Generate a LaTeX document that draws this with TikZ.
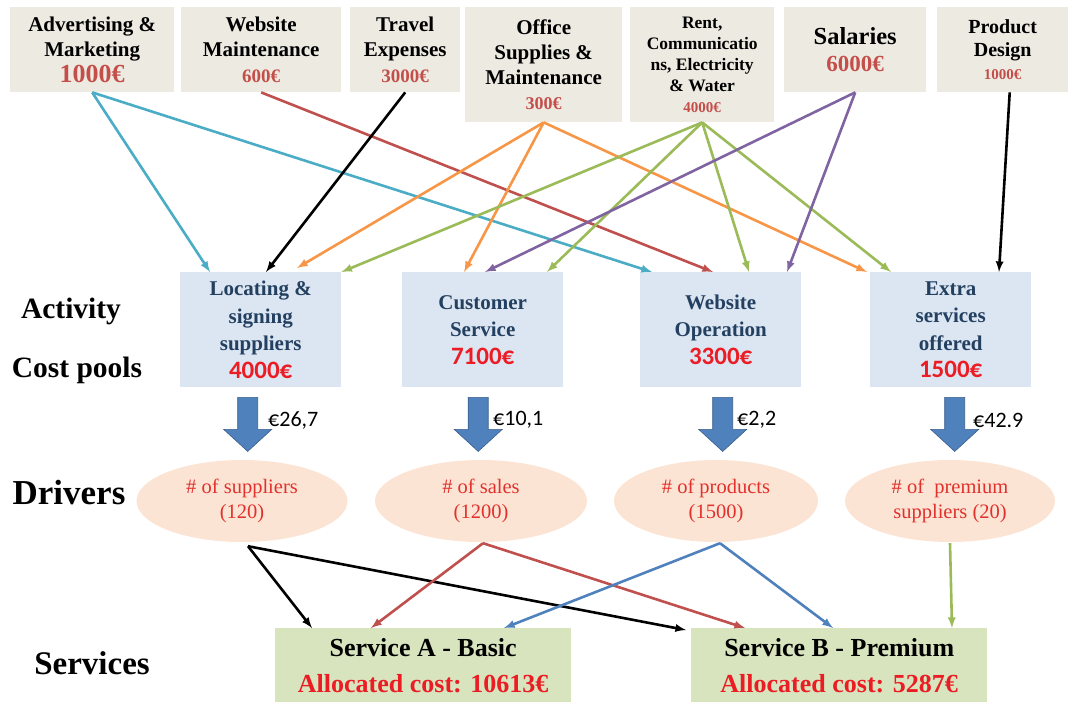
\documentclass[tikz,border=0pt]{standalone}
\usepackage{fontspec}
\setmainfont{Liberation Serif}
\newfontfamily\calibri{Carlito}
\usetikzlibrary{arrows,shapes.geometric}

\definecolor{boxgray}{RGB}{236,234,225}
\definecolor{poolblue}{RGB}{220,230,242}
\definecolor{drvpeach}{RGB}{252,228,212}
\definecolor{srvgreen}{RGB}{215,228,189}
\definecolor{costred}{RGB}{196,78,74}
\definecolor{brightred}{RGB}{236,28,36}
\definecolor{drvred}{RGB}{226,48,44}
\definecolor{navy}{RGB}{36,64,97}
\definecolor{acyan}{RGB}{75,172,198}
\definecolor{ared}{RGB}{192,80,77}
\definecolor{aorange}{RGB}{247,150,70}
\definecolor{agreen}{RGB}{155,187,89}
\definecolor{apurple}{RGB}{128,100,162}
\definecolor{ablue}{RGB}{79,129,189}
\definecolor{ablueline}{RGB}{56,93,138}

\tikzset{
  expense/.style={fill=boxgray,inner sep=0pt,align=center,anchor=north west},
  pool/.style={fill=poolblue,inner sep=0pt,align=center,anchor=north west,
    minimum width=161,minimum height=115,text=navy,font=\bfseries\fontsize{21}{27.5}\selectfont},
  driver/.style={ellipse,fill=drvpeach,inner sep=0pt,align=center,minimum height=82,
    text=drvred,font=\fontsize{20.5}{25}\selectfont},
  service/.style={fill=srvgreen,inner sep=0pt,align=center,anchor=north west,
    minimum width=296,minimum height=74,font=\bfseries\fontsize{26}{36}\selectfont},
  rowlabel/.style={font=\bfseries\fontsize{29.5}{32}\selectfont},
  rate/.style={anchor=west,inner sep=0pt,font=\calibri\fontsize{22}{22}\selectfont},
  flow/.style={->,line width=2.6pt},
  bigdown/.style={fill=ablue,draw=ablueline,line width=0.6pt,line join=miter}
}

\begin{document}
\begin{tikzpicture}[>=latex,x=1pt,y=-1pt]
\useasboundingbox (0,0) rectangle (1073,702);
%%
% Node: expenses
\node[expense,minimum width=164,minimum height=85,font=\bfseries\fontsize{21}{25.5}\selectfont] (adv) at (10,7)
  {Advertising \&\\Marketing\\{\color{costred}\fontsize{26}{27}\selectfont 1000€}};
\node[expense,minimum width=160,minimum height=85,font=\bfseries\fontsize{21}{25.5}\selectfont] (webm) at (181,7)
  {Website\\Maintenance\\{\color{costred}\fontsize{19}{26}\selectfont 600€}};
\node[expense,minimum width=110,minimum height=85,font=\bfseries\fontsize{21}{25.5}\selectfont] (trav) at (350,7)
  {Travel\\Expenses\\{\color{costred}\fontsize{19}{26}\selectfont 3000€}};
\node[expense,minimum width=157,minimum height=115,font=\bfseries\fontsize{21}{25}\selectfont] (off) at (465,7)
  {Office\\Supplies \&\\Maintenance\\{\color{costred}\fontsize{18}{25}\selectfont 300€}};
\node[expense,minimum width=144,minimum height=115,font=\bfseries\fontsize{17.5}{21}\selectfont] (rent) at (630,7)
  {Rent,\\Communicatio\\ns, Electricity\\\& Water\\{\color{costred}\fontsize{15}{20}\selectfont 4000€}};
\node[expense,minimum width=142,minimum height=85,font=\bfseries\fontsize{24.5}{27}\selectfont] (sal) at (784,7)
  {Salaries\\{\color{costred}\fontsize{23}{27}\selectfont 6000€}};
\node[expense,minimum width=131,minimum height=85,font=\bfseries\fontsize{20}{23}\selectfont] (prod) at (937,7)
  {Product\\Design\\{\color{costred}\fontsize{15}{22}\selectfont 1000€}};
%
% Node: activity cost pools
\node[pool] (loc) at (180,272)
  {Locating \&\\signing\\suppliers\\{\calibri\color{brightred}\fontsize{25}{27.5}\selectfont 4000€}};
\node[pool] (cust) at (402,272)
  {Customer\\Service\\{\calibri\color{brightred}\fontsize{25}{27.5}\selectfont 7100€}};
\node[pool] (webop) at (640,272)
  {Website\\Operation\\{\calibri\color{brightred}\fontsize{25}{27.5}\selectfont 3300€}};
\node[pool] (extra) at (870,272)
  {Extra\\services\\offered\\{\calibri\color{brightred}\fontsize{25}{27.5}\selectfont 1500€}};
%
% Node: drivers
\node[driver,minimum width=211] (drv1) at (242,501) {\# of suppliers\\(120)};
\node[driver,minimum width=212] (drv2) at (481,501) {\# of sales\\(1200)};
\node[driver,minimum width=204] (drv3) at (716,501) {\# of products\\(1500)};
\node[driver,minimum width=210] (drv4) at (950,501) {\# of~ premium\\suppliers (20)};
%
% Node: services
\node[service] (srvA) at (275,628)
  {Service A - Basic\\{\color{brightred}Allocated cost: 10613€}};
\node[service] (srvB) at (691,628)
  {Service B - Premium\\{\color{brightred}Allocated cost: 5287€}};
%
% Node: row labels
\node[rowlabel] (lblact) at (71,311) {Activity};
\node[rowlabel] (lblpool) at (77,370) {Cost pools};
\node[rowlabel,font=\bfseries\fontsize{35}{38}\selectfont] (lbldrv) at (69,493) {Drivers};
\node[rowlabel,font=\bfseries\fontsize{33}{36}\selectfont] (lblsrv) at (92,663) {Services};
%
% Node: driver rates
\node[rate] (rate1) at (268,420) {€26,7};
\node[rate] (rate2) at (493,420) {€10,1};
\node[rate] (rate3) at (737,420) {€2,2};
\node[rate] (rate4) at (973,420) {€42.9};
%
% Edge: expenses -> activity cost pools
\draw[flow,acyan] (adv.south) -- ([xshift=30]loc.north west);
\draw[flow,acyan] (adv.south) -- ([xshift=12]webop.north west);
\draw[flow,ared] (webm.south) -- ([xshift=73]webop.north west);
\draw[flow] (trav.south) -- ([xshift=86]loc.north west);
\draw[flow,aorange] (off.south) -- ([xshift=117,yshift=4]loc.north west);
\draw[flow,aorange] (off.south) -- ([xshift=62]cust.north west);
\draw[flow,aorange] (off.south) -- ([xshift=-3]extra.north west);
\draw[flow,agreen] (rent.south) -- (loc.north east);
\draw[flow,agreen] (rent.south) -- ([xshift=145]cust.north west);
\draw[flow,agreen] (rent.south) -- ([xshift=109]webop.north west);
\draw[flow,agreen] (rent.south) -- ([xshift=21]extra.north west);
\draw[flow,apurple] (sal.south) -- ([xshift=83]cust.north west);
\draw[flow,apurple] (sal.south) -- ([xshift=147]webop.north west);
\draw[flow] ([xshift=7]prod.south) -- ([xshift=129]extra.north west);
%
% Edge: activity cost pools -> drivers
\draw[bigdown] ([xshift=-23,yshift=-10]loc.south) -- ++(20,0) -- ++(0,32) -- ++(14,0)
  -- ++(-24,22) -- ++(-24,-22) -- ++(14,0) -- cycle;
\draw[bigdown] ([xshift=-14.5,yshift=-10]cust.south) -- ++(20,0) -- ++(0,32) -- ++(14,0)
  -- ++(-24,22) -- ++(-24,-22) -- ++(14,0) -- cycle;
\draw[bigdown] ([xshift=-8,yshift=-10]webop.south) -- ++(20,0) -- ++(0,32) -- ++(14,0)
  -- ++(-24,22) -- ++(-24,-22) -- ++(14,0) -- cycle;
\draw[bigdown] ([xshift=-6,yshift=-10]extra.south) -- ++(20,0) -- ++(0,32) -- ++(14,0)
  -- ++(-24,22) -- ++(-24,-22) -- ++(14,0) -- cycle;
%
% Edge: drivers -> services
\draw[flow] ([xshift=6,yshift=-4]drv1.south) -- ([xshift=37]srvA.north west);
\draw[flow] ([xshift=6,yshift=-4]drv1.south) -- ([xshift=-5,yshift=-2]srvB.north west);
\draw[flow,ared] ([xshift=2,yshift=-1]drv2.south) -- ([xshift=96]srvA.north west);
\draw[flow,ared] ([xshift=2,yshift=-1]drv2.south) -- ([xshift=54]srvB.north west);
\draw[flow,ablue] ([xshift=4,yshift=-1]drv3.south) -- ([xshift=229]srvA.north west);
\draw[flow,ablue] ([xshift=4,yshift=-1]drv3.south) -- ([xshift=142]srvB.north west);
\draw[flow,agreen] ([yshift=-1]drv4.south) -- ([xshift=261]srvB.north west);
%
\end{tikzpicture}
\end{document}
